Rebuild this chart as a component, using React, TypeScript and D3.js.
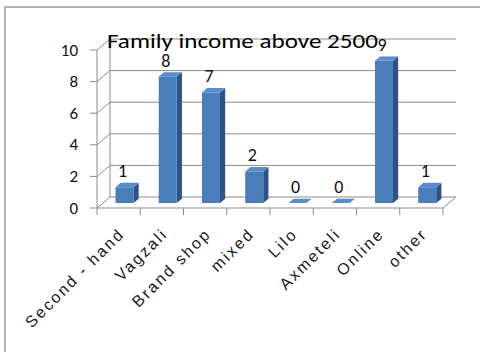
import React from "react";
import * as d3 from "d3";

const categories = ["Second - hand", "Vagzali", "Brand shop", "mixed", "Lilo", "Axmeteli", "Online", "other"];
const values = [1, 8, 7, 2, 0, 0, 9, 1];
const yTicks = [0, 2, 4, 6, 8, 10];
const title = "Family income above 2500";

export default function App() {
  const W = 480, H = 352;
  const x = d3.scaleBand<string>().domain(categories).range([97, 443]).paddingInner(0).paddingOuter(0);
  const y = d3.scaleLinear().domain([0, 10]).range([208, 50]);
  const DX = 13, DY = -11;
  const t1 = 0.45, t2 = 0.85;
  const barW = 18;
  const font = "Carlito, 'Liberation Sans', 'DejaVu Sans', sans-serif";
  const labelFont = "'Liberation Sans', Arial, sans-serif";
  const grid = "#8c8c8c";
  const boundaries = d3.range(categories.length + 1).map((i) => 97 + i * x.bandwidth());

  return (
    <svg width={W} height={H} style={{ position: "absolute", left: 0, top: 0 }}>
      <rect x={0} y={0} width={W} height={H} fill="#fff" />
      <rect x={5} y={7} width={520} height={420} fill="none" stroke="#9a9a9a" strokeWidth={1.5} />
      {yTicks.map((t) => (
        <g key={t}>
          <line x1={97 + DX} y1={y(t) + DY} x2={443 + DX} y2={y(t) + DY} stroke={grid} strokeWidth={1} />
          <line x1={97} y1={y(t)} x2={97 + DX} y2={y(t) + DY} stroke={grid} strokeWidth={1} />
          <line x1={90} y1={y(t)} x2={97} y2={y(t)} stroke={grid} strokeWidth={1} />
          <text x={78} y={y(t)} textAnchor="end" dominantBaseline="central" fontFamily={font} fontSize={17} fill="#111">{t}</text>
        </g>
      ))}
      <line x1={97 + DX} y1={y(0) + DY} x2={97 + DX} y2={y(10) + DY} stroke={grid} strokeWidth={1} />
      <line x1={97} y1={y(0)} x2={97} y2={y(10)} stroke={grid} strokeWidth={1} />
      <line x1={443} y1={y(0)} x2={443 + DX} y2={y(0) + DY} stroke={grid} strokeWidth={1} />
      <line x1={97} y1={y(0)} x2={443} y2={y(0)} stroke={grid} strokeWidth={1} />
      {boundaries.map((bx, i) => (
        <line key={i} x1={bx} y1={y(0)} x2={bx} y2={y(0) + 7} stroke={grid} strokeWidth={1} />
      ))}
      {categories.map((c, i) => {
        const v = values[i];
        const cx = (x(c) as number) + x.bandwidth() / 2;
        const fx0 = cx - barW / 2 + DX * t1;
        const fx1 = fx0 + barW;
        const fyB = y(0) + DY * t1;
        const fyT = y(v) + DY * t1;
        const ddx = DX * (t2 - t1), ddy = DY * (t2 - t1);
        return (
          <g key={c}>
            {v > 0 && (
              <>
                <polygon points={`${fx1},${fyB} ${fx1 + ddx},${fyB + ddy} ${fx1 + ddx},${fyT + ddy} ${fx1},${fyT}`} fill="#2c5286" />
                <rect x={fx0} y={fyT} width={barW} height={fyB - fyT} fill="#4a7ebb" />
              </>
            )}
            <polygon points={`${fx0},${fyT} ${fx1},${fyT} ${fx1 + ddx},${fyT + ddy} ${fx0 + ddx},${fyT + ddy}`} fill="#5a8ccb" />
            <text x={cx + 4} y={fyT - 16} textAnchor="middle" dominantBaseline="central" fontFamily={font} fontSize={18} fill="#111">{v}</text>
            <text transform={`translate(${cx + 3},${231}) rotate(-45)`} textAnchor="end" dominantBaseline="central" fontFamily={labelFont} fontSize={16} letterSpacing={2.2} fill="#1a1a1a">{c}</text>
          </g>
        );
      })}
      <text x={107} y={48} fontFamily={font} fontSize={20} textLength={271} lengthAdjust="spacingAndGlyphs" fill="#000">{title}</text>
    </svg>
  );
}
